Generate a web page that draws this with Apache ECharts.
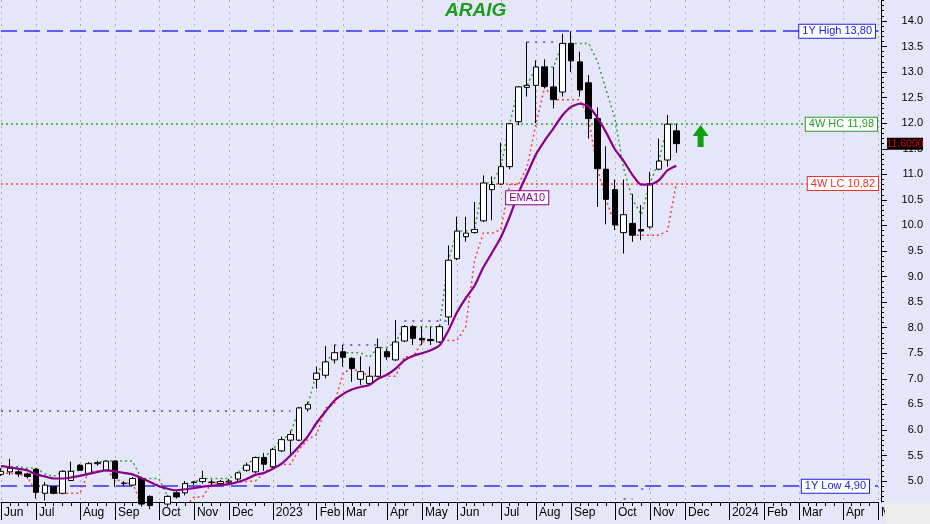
<!DOCTYPE html>
<html><head><meta charset="utf-8">
<script src="https://cdn.jsdelivr.net/npm/echarts@6/dist/echarts.min.js"></script>
<style>html,body{margin:0;padding:0;background:#e6e6fa}#c{width:930px;height:524px}</style>
</head><body><div id="c"></div>
<script>
// ---- data ----
const weeks = ['2022-06-03','2022-06-10','2022-06-17','2022-06-24','2022-07-01','2022-07-08','2022-07-15','2022-07-22','2022-07-29','2022-08-05','2022-08-12','2022-08-19','2022-08-26','2022-09-02','2022-09-09','2022-09-16','2022-09-23','2022-09-30','2022-10-07','2022-10-14','2022-10-21','2022-10-28','2022-11-04','2022-11-11','2022-11-18','2022-11-25','2022-12-02','2022-12-09','2022-12-16','2022-12-23','2022-12-30','2023-01-06','2023-01-13','2023-01-20','2023-01-27','2023-02-03','2023-02-10','2023-02-17','2023-02-24','2023-03-03','2023-03-10','2023-03-17','2023-03-24','2023-03-31','2023-04-07','2023-04-14','2023-04-21','2023-04-28','2023-05-05','2023-05-12','2023-05-19','2023-05-26','2023-06-02','2023-06-09','2023-06-16','2023-06-23','2023-06-30','2023-07-07','2023-07-14','2023-07-21','2023-07-28','2023-08-04','2023-08-11','2023-08-18','2023-08-25','2023-09-01','2023-09-08','2023-09-15','2023-09-22','2023-09-29','2023-10-06','2023-10-13','2023-10-20','2023-10-27','2023-11-03','2023-11-10','2023-11-17','2023-11-24','2023-12-01','2023-12-08','2023-12-15','2023-12-22','2023-12-29','2024-01-05','2024-01-12','2024-01-19','2024-01-26','2024-02-02','2024-02-09','2024-02-16','2024-02-23','2024-03-01','2024-03-08','2024-03-15','2024-03-22','2024-03-29','2024-04-05','2024-04-12','2024-04-19','2024-04-26','2024-05-03'];

const opens  = [5.13,5.18,5.18,5.14,5.23,4.76,4.89,4.76,5.01,5.31,5.15,5.34,5.21,5.39,4.95,4.92,5.05,4.70,4.50,4.55,4.77,4.77,4.97,4.99,4.97,4.95,4.98,5.04,5.21,5.18,5.46,5.28,5.59,5.80,5.80,6.41,6.99,7.07,7.37,7.53,7.40,6.99,6.91,7.05,7.53,7.37,7.74,8.02,7.79,7.77,7.72,8.21,9.35,9.78,9.86,10.09,10.70,10.81,11.15,12.03,12.70,12.74,13.10,12.71,12.61,13.56,13.20,12.79,12.09,11.10,10.70,9.86,10.04,9.92,9.97,11.10,11.28,11.85];
const highs  = [5.25,5.43,5.22,5.16,5.25,4.98,4.90,5.21,5.38,5.33,5.37,5.40,5.40,5.40,5.00,5.08,5.08,4.72,4.55,4.72,4.80,5.00,5.00,5.20,5.03,5.02,5.04,5.18,5.36,5.48,5.55,5.65,5.87,5.99,6.45,6.55,7.24,7.64,7.66,7.66,7.42,7.44,7.24,7.79,7.59,8.15,8.05,8.05,8.02,8.02,8.05,9.61,10.17,10.17,10.46,10.98,10.96,11.62,12.00,12.72,13.59,13.23,13.25,13.10,13.75,13.80,13.40,12.94,12.31,11.55,10.90,10.90,10.62,10.40,11.05,11.70,12.16,11.98];
const lows   = [5.10,5.12,5.08,5.05,4.66,4.62,4.74,4.74,5.00,5.20,5.13,5.30,5.20,4.89,4.90,4.90,4.50,4.45,4.40,4.50,4.66,4.72,4.92,4.95,4.93,4.90,4.95,5.00,5.18,5.15,5.20,5.25,5.57,5.51,5.78,6.36,6.81,7.01,7.30,7.24,6.94,6.88,6.90,7.03,7.37,7.35,7.72,7.66,7.66,7.66,7.70,8.05,9.32,9.68,9.84,10.07,10.10,10.79,11.10,11.96,12.52,12.00,12.68,12.29,12.52,13.00,12.52,11.70,10.36,10.02,9.91,9.45,9.68,9.71,9.94,11.08,11.15,11.42];
const closes = [5.19,5.25,5.14,5.09,4.78,4.92,4.76,5.19,5.19,5.21,5.34,5.36,5.39,5.05,4.96,5.05,4.55,4.52,4.48,4.70,4.69,4.95,4.98,5.05,4.98,4.99,5.00,5.16,5.31,5.46,5.33,5.62,5.81,5.91,6.43,6.50,7.11,7.33,7.51,7.42,7.20,7.14,7.05,7.61,7.43,7.72,8.02,7.79,7.76,7.75,8.02,9.32,9.89,9.85,9.92,10.83,10.80,11.15,11.99,12.71,12.74,13.10,12.72,12.46,13.56,13.22,12.65,12.09,11.11,10.51,10.01,10.21,9.81,9.89,10.82,11.26,11.98,11.60];

const ema10 = [5.29,5.27,5.24,5.21,5.13,5.09,5.05,5.05,5.07,5.10,5.14,5.18,5.21,5.19,5.16,5.13,5.06,4.98,4.90,4.85,4.82,4.84,4.86,4.89,4.91,4.92,4.94,4.98,5.04,5.12,5.16,5.24,5.34,5.50,5.68,5.88,6.14,6.36,6.57,6.70,6.79,6.84,6.88,7.00,7.08,7.20,7.36,7.45,7.50,7.56,7.65,7.94,8.30,8.58,8.82,9.18,9.47,9.77,10.17,10.63,11.01,11.39,11.66,11.90,12.15,12.32,12.38,12.33,12.11,11.82,11.49,11.26,10.99,10.80,10.80,10.88,11.08,11.17];
const hc4w = [5.28,5.28,5.28,5.25,5.25,5.14,5.09,5.19,5.19,5.21,5.34,5.36,5.39,5.39,5.39,5.39,5.05,5.05,5.05,4.70,4.70,4.95,4.98,5.05,5.05,5.05,5.05,5.16,5.31,5.46,5.46,5.62,5.81,5.91,6.43,6.50,7.11,7.33,7.51,7.51,7.51,7.51,7.42,7.61,7.61,7.72,8.02,8.02,8.02,8.02,8.02,9.32,9.89,9.89,9.92,10.83,10.83,11.15,11.99,12.71,12.74,13.10,13.10,13.10,13.56,13.56,13.56,13.56,13.22,12.65,12.09,11.11,10.51,10.21,10.82,11.26,11.98,11.98];
const lc4w = [5.15,5.15,5.14,5.09,4.78,4.78,4.76,4.76,4.76,4.76,5.19,5.19,5.21,5.05,4.96,4.96,4.55,4.52,4.48,4.48,4.48,4.48,4.69,4.69,4.95,4.98,4.98,4.98,4.99,5.00,5.16,5.31,5.33,5.33,5.62,5.81,5.91,6.43,6.50,7.11,7.20,7.14,7.05,7.05,7.05,7.05,7.43,7.43,7.72,7.75,7.75,7.75,7.75,8.02,9.32,9.85,9.85,9.92,10.80,10.80,11.15,11.99,12.71,12.46,12.46,12.46,12.46,12.09,11.11,10.51,10.01,10.01,9.81,9.81,9.81,9.81,9.89,10.82];

const tickIdx    = [0,4,9,13,18,22,26,31,36,39,44,48,52,57,61,65,70,74,78,83,87,91,96,100];
const tickLabels = ['Jun','Jul','Aug','Sep','Oct','Nov','Dec','2023','Feb','Mar','Apr','May','Jun','Jul','Aug','Sep','Oct','Nov','Dec','2024','Feb','Mar','Apr','May'];
const yTickValues = [5.0,5.5,6.0,6.5,7.0,7.5,8.0,8.5,9.0,9.5,10.0,10.5,11.0,11.5,12.0,12.5,13.0,13.5,14.0];

const high1Y = 13.80, low1Y = 4.90, hc4W = 11.98, lc4W = 10.82, lastPrice = 11.60;
const histHighSegs = [[0,33,6.37],[38,43,7.66],[46,51,8.14],[60,63,13.59]];
const histLowSegs  = [[71,72,4.66],[73,74,4.84]];
const emaLabelAt = [60, 10.54];
const arrowAt = [80, 11.75];

// ---- chart ----
const FONT = '"Liberation Sans", Arial, sans-serif';
const Y_MIN = 4.59, Y_MAX = 14.41;
const tickSet = new Set(tickIdx);
const labelOf = {}; tickIdx.forEach((t,i)=>{ labelOf[t] = tickLabels[i]; });
const comma = v => v.toFixed(2).replace('.', ',');
const minorTicks = [];
for (let k = 46; k <= 144; k++) { if (k % 5 !== 0) minorTicks.push(k / 10); }

const candleData = opens.map((o,i)=>[o, closes[i], lows[i], highs[i]]);

function boxLabel(color, text, dist){
  return {show:true, position:'insideEnd', distance:dist, formatter:text, color:color,
    backgroundColor:'#ffffff', borderColor:color, borderWidth:1, padding:[1,3,0,3],
    fontSize:11, fontFamily:FONT, lineHeight:12};
}
function seg(color, list){
  return list.map(([s,e,v]) => [
    {coord:[weeks[s], v], lineStyle:{color:color, type:[2,6], width:2}, label:{show:false}},
    {coord:[weeks[e], v]}
  ]);
}

const chart = echarts.init(document.getElementById('c'), null, {renderer:'canvas'});
const option = {
  backgroundColor:'#e6e6fa',
  animation:false,
  title:{text:'ARAIG', left:445, top:1, padding:0,
    textStyle:{color:'#1e9a1e', fontStyle:'italic', fontWeight:'bold', fontSize:19, fontFamily:FONT}},
  grid:{left:1, right:52, top:0, bottom:22},
  xAxis:[
    {type:'category', data:weeks, boundaryGap:false, position:'bottom',
     axisLine:{show:true, lineStyle:{color:'#000', width:1}},
     axisTick:{show:true, interval:0, length:4, lineStyle:{color:'#000'}},
     axisLabel:{show:false}, splitLine:{show:false}},
    {type:'category', data:weeks, boundaryGap:false, position:'bottom',
     axisLine:{show:false},
     axisTick:{show:true, interval:(i)=>tickSet.has(i), length:18, lineStyle:{color:'#000'}},
     axisLabel:{show:true, interval:(i)=>tickSet.has(i), formatter:(v,i)=>labelOf[i]||'',
       showMinLabel:true, showMaxLabel:true,
       align:'left', padding:[0,0,0,3], margin:5, fontSize:12, color:'#000', fontFamily:FONT},
     splitLine:{show:true, interval:(i)=>tickSet.has(i), lineStyle:{color:'#b0b0b0', type:[2,4], width:1}}}
  ],
  yAxis:[
    {type:'value', position:'right', offset:3, min:Y_MIN, max:Y_MAX,
     axisLine:{show:true, lineStyle:{color:'#000'}},
     axisTick:{show:true, customValues:yTickValues, length:6, lineStyle:{color:'#000'}},
     axisLabel:{show:true, customValues:yTickValues, formatter:v=>v.toFixed(1), align:'right', margin:42,
       fontSize:11, color:'#000', fontFamily:FONT},
     splitLine:{show:false}},
    {type:'value', position:'right', offset:3, min:Y_MIN, max:Y_MAX,
     axisLine:{show:false},
     axisTick:{show:true, customValues:minorTicks, length:3, lineStyle:{color:'#000'}},
     axisLabel:{show:false}, splitLine:{show:false}}
  ],
  series:[
    {name:'4W HC', type:'line', data:hc4w, symbol:'none', z:2, clip:true,
     lineStyle:{color:'#2ea62e', type:[2,3], width:1.5}},
    {name:'4W LC', type:'line', data:lc4w, symbol:'none', z:2, clip:true,
     lineStyle:{color:'#ff3b3b', type:[2,3], width:1.5}},
    {name:'ARAIG', type:'candlestick', data:candleData, barWidth:6, z:3, clip:true,
     itemStyle:{color:'#ffffff', color0:'#000000', borderColor:'#000000', borderColor0:'#000000', borderWidth:1},
     markLine:{silent:true, symbol:['none','none'], animation:false, z:1,
       data:[
         {yAxis:high1Y, lineStyle:{color:'#3030f0', type:[16,7], width:1.5}, label:boxLabel('#2020e0','1Y High '+comma(high1Y),3)},
         {yAxis:hc4W, lineStyle:{color:'#2ea62e', type:[2,3], width:1.5}, label:boxLabel('#2a9a2a','4W HC '+comma(hc4W),1)},
         {yAxis:lc4W, lineStyle:{color:'#ff3b3b', type:[2,3], width:1.5}, label:boxLabel('#f03030','4W LC '+comma(lc4W),0)},
         {yAxis:low1Y, lineStyle:{color:'#3030f0', type:[16,7], width:1.5}, label:boxLabel('#2020e0','1Y Low '+comma(low1Y),9)},
         ...seg('#6a6af5', histHighSegs),
         ...seg('#6a6af5', histLowSegs)
       ]}},
    {name:'EMA10', type:'line', data:ema10, symbol:'none', z:4, smooth:0.2, clip:true,
     lineStyle:{color:'#880088', width:2.2},
     markPoint:{silent:true, symbol:'rect', symbolSize:0,
       data:[{coord:[weeks[emaLabelAt[0]], emaLabelAt[1]],
         label:{show:true, position:'inside', formatter:'EMA10', color:'#8a008a', backgroundColor:'#ffffff',
           borderColor:'#8a008a', borderWidth:1, padding:[1,3,0,3], fontSize:11, fontFamily:FONT, lineHeight:12}}]}}
  ]
};
chart.setOption(option);

// decorations anchored on the axes
const axisX = chart.convertToPixel({xAxisIndex:0}, weeks.length-1) + 3;
const py = chart.convertToPixel({yAxisIndex:0}, lastPrice);
const ax = chart.convertToPixel({xAxisIndex:0}, arrowAt[0]) - 2;
const ay = chart.convertToPixel({yAxisIndex:0}, arrowAt[1]);
const bottomY = chart.convertToPixel({yAxisIndex:0}, Y_MIN);
chart.setOption({graphic:[
  {type:'rect', shape:{x:axisX+4, y:bottomY+0.5, width:60, height:30}, style:{fill:'#ececec'}, z:10, silent:true},
  {type:'rect', shape:{x:axisX+6, y:py-6, width:36, height:12}, style:{fill:'#000'}, z:20, silent:true},
  {type:'text', x:axisX+24, y:py, style:{text:lastPrice.toFixed(4), fill:'#e00000', font:'10.5px '+FONT, align:'center', verticalAlign:'middle'}, z:21, silent:true},
  {type:'polygon', shape:{points:[[ax,ay-11],[ax+8,ay],[ax+3,ay],[ax+3,ay+11],[ax-3,ay+11],[ax-3,ay],[ax-8,ay]]},
   style:{fill:'#11a011'}, z:20, silent:true}
]});
</script>
</body></html>
